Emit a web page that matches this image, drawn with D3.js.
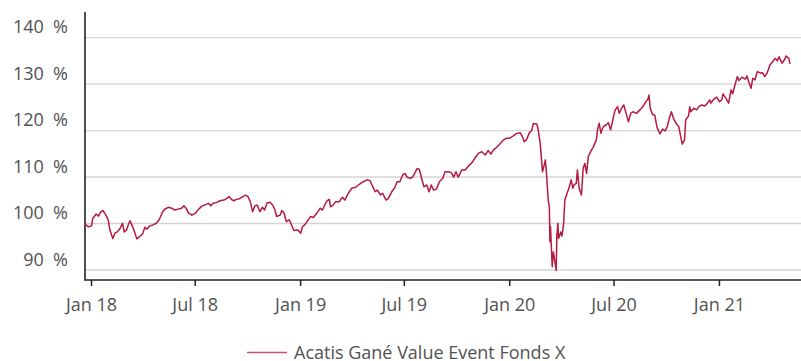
<!DOCTYPE html>
<html>
<head>
<meta charset="utf-8">
<script src="https://cdn.jsdelivr.net/npm/d3@7"></script>
<style>
  body { margin: 0; background: #fff; }
  svg { display: block; font-family: "Open Sans", "Noto Sans", sans-serif; }
</style>
</head>
<body>
<svg id="chart" width="801" height="361"></svg>
<script>
// Fund performance, indexed (%)
const seriesName = "Acatis Gané Value Event Fonds X";

const dates = [
  "2017-12-21","2017-12-27","2018-01-02","2018-01-04","2018-01-10","2018-01-14","2018-01-18","2018-01-22","2018-01-27","2018-01-31",
  "2018-02-03","2018-02-08","2018-02-12","2018-02-16","2018-02-21","2018-02-25","2018-02-28","2018-03-04","2018-03-07","2018-03-10",
  "2018-03-14","2018-03-18","2018-03-22","2018-03-27","2018-04-01","2018-04-05","2018-04-08","2018-04-14","2018-04-19","2018-04-25",
  "2018-04-30","2018-05-06","2018-05-10","2018-05-16","2018-05-22","2018-05-27","2018-06-02","2018-06-08","2018-06-12","2018-06-16",
  "2018-06-20","2018-06-26","2018-07-02","2018-07-08","2018-07-14","2018-07-19","2018-07-25","2018-07-29","2018-08-02","2018-08-08",
  "2018-08-14","2018-08-21","2018-08-26","2018-08-30","2018-09-03","2018-09-07","2018-09-12","2018-09-18","2018-09-23","2018-09-28",
  "2018-10-02","2018-10-06","2018-10-10","2018-10-14","2018-10-18","2018-10-23","2018-10-27","2018-10-31","2018-11-04","2018-11-09",
  "2018-11-14","2018-11-18","2018-11-21","2018-11-27","2018-11-30","2018-12-04","2018-12-08","2018-12-13","2018-12-17","2018-12-21",
  "2018-12-28","2019-01-02","2019-01-05","2019-01-09","2019-01-13","2019-01-19","2019-01-24","2019-01-30","2019-02-05","2019-02-09",
  "2019-02-13","2019-02-17","2019-02-21","2019-02-23","2019-02-28","2019-03-04","2019-03-10","2019-03-16","2019-03-20","2019-03-26",
  "2019-04-01","2019-04-08","2019-04-15","2019-04-21","2019-04-28","2019-05-03","2019-05-08","2019-05-12","2019-05-16","2019-05-21",
  "2019-05-25","2019-05-31","2019-06-04","2019-06-10","2019-06-16","2019-06-19","2019-06-24","2019-06-29","2019-07-03","2019-07-07",
  "2019-07-12","2019-07-16","2019-07-20","2019-07-24","2019-07-28","2019-08-01","2019-08-05","2019-08-10","2019-08-14","2019-08-18",
  "2019-08-22","2019-08-27","2019-09-01","2019-09-07","2019-09-11","2019-09-16","2019-09-22","2019-09-26","2019-09-30","2019-10-04",
  "2019-10-10","2019-10-16","2019-10-22","2019-10-28","2019-11-02","2019-11-08","2019-11-14","2019-11-20","2019-11-25","2019-11-30",
  "2019-12-04","2019-12-10","2019-12-16","2019-12-22","2019-12-27","2020-01-02","2020-01-08","2020-01-14","2020-01-20","2020-01-24",
  "2020-01-27","2020-01-31","2020-02-05","2020-02-09","2020-02-12","2020-02-18","2020-02-20","2020-02-24","2020-02-28","2020-03-02",
  "2020-03-04","2020-03-06","2020-03-09","2020-03-11","2020-03-12","2020-03-13","2020-03-16","2020-03-18","2020-03-23","2020-03-24",
  "2020-03-26","2020-03-27","2020-03-31","2020-04-02","2020-04-05","2020-04-07","2020-04-11","2020-04-15","2020-04-18","2020-04-21",
  "2020-04-23","2020-04-27","2020-04-29","2020-05-02","2020-05-06","2020-05-09","2020-05-12","2020-05-15","2020-05-18","2020-05-22",
  "2020-05-27","2020-06-01","2020-06-03","2020-06-06","2020-06-09","2020-06-13","2020-06-18","2020-06-22","2020-06-26","2020-07-01",
  "2020-07-04","2020-07-08","2020-07-11","2020-07-15","2020-07-19","2020-07-23","2020-07-27","2020-07-31","2020-08-04","2020-08-10",
  "2020-08-16","2020-08-22","2020-08-27","2020-08-30","2020-09-01","2020-09-03","2020-09-07","2020-09-11","2020-09-15","2020-09-20",
  "2020-09-25","2020-09-29","2020-10-03","2020-10-06","2020-10-10","2020-10-14","2020-10-19","2020-10-23","2020-10-26","2020-10-29",
  "2020-11-02","2020-11-04","2020-11-09","2020-11-11","2020-11-13","2020-11-18","2020-11-23","2020-11-27","2020-12-02","2020-12-07",
  "2020-12-11","2020-12-16","2020-12-18","2020-12-23","2020-12-28","2021-01-02","2021-01-06","2021-01-08","2021-01-13","2021-01-18",
  "2021-01-22","2021-01-25","2021-01-29","2021-02-02","2021-02-05","2021-02-10","2021-02-16","2021-02-19","2021-02-22","2021-02-26",
  "2021-03-01","2021-03-05","2021-03-09","2021-03-15","2021-03-18","2021-03-22","2021-03-26","2021-03-31","2021-04-05","2021-04-09",
  "2021-04-13","2021-04-16","2021-04-21","2021-04-26","2021-04-28","2021-05-03","2021-05-05"
];

const values = [
  100.0, 99.3, 99.5, 101.1, 102.05, 101.6, 102.5, 102.8, 101.8, 100.8,
  98.6, 96.8, 98.0, 98.2, 99.0, 100.05, 98.2, 98.6, 99.7, 100.6,
  99.5, 98.2, 96.7, 97.2, 97.75, 99.2, 98.8, 99.5, 99.7, 100.05,
  100.8, 102.55, 103.1, 103.5, 103.3, 102.9, 103.1, 103.3, 103.8, 103.3,
  102.3, 101.8, 102.2, 103.1, 103.8, 104.0, 104.35, 103.8, 104.35, 104.5,
  104.9, 105.05, 105.4, 105.8, 105.2, 104.9, 105.2, 105.4, 105.8, 106.1,
  105.8, 104.7, 102.55, 103.8, 104.0, 102.55, 103.5, 102.9, 104.35, 104.6,
  104.0, 102.9, 101.5, 101.8, 102.8, 102.2, 100.4, 100.8, 99.7, 98.5,
  98.6, 97.9, 99.3, 99.7, 100.4, 101.5, 101.3, 102.2, 103.3, 102.9,
  104.0, 104.9, 105.2, 103.6, 104.0, 104.7, 104.7, 105.65, 105.05, 106.5,
  107.6, 107.8, 108.5, 109.0, 109.4, 109.2, 107.9, 106.85, 107.2, 106.15,
  106.5, 105.05, 105.4, 106.85, 107.9, 109.0, 109.0, 110.45, 110.8, 109.95,
  109.75, 109.95, 110.8, 111.8, 111.7, 109.75, 107.9, 108.3, 106.85, 108.3,
  107.2, 107.4, 109.0, 109.75, 111.15, 111.15, 110.95, 109.95, 111.15, 109.95,
  111.5, 111.5, 112.4, 113.1, 114.05, 115.1, 115.45, 114.75, 115.7, 114.95,
  115.8, 116.4, 117.15, 118.0, 118.35, 118.35, 118.85, 119.4, 119.55, 118.7,
  117.6, 118.0, 119.5, 119.95, 121.5, 121.4, 120.55, 117.3, 111.15, 112.6,
  113.7, 110.8, 105.05, 103.6, 96.1, 99.3, 90.7, 93.9, 89.9, 97.2,
  100.05, 96.8, 98.2, 97.3, 100.05, 105.05, 106.5, 107.9, 109.4, 107.6,
  108.3, 108.65, 111.5, 107.6, 106.15, 111.9, 112.95, 110.8, 114.4, 115.45,
  116.55, 118.0, 120.15, 121.6, 119.4, 120.85, 121.2, 121.7, 120.15, 123.0,
  124.45, 125.15, 123.7, 124.8, 125.5, 123.7, 121.9, 123.7, 124.05, 123.7,
  124.45, 125.3, 126.35, 126.7, 127.65, 124.8, 123.5, 123.3, 120.7, 119.3,
  120.35, 119.9, 120.9, 122.5, 124.05, 122.5, 121.4, 120.85, 118.85, 117.1,
  118.0, 122.3, 123.15, 125.15, 124.05, 124.8, 124.45, 125.15, 125.5, 125.3,
  125.75, 126.6, 125.9, 126.75, 127.2, 126.2, 126.6, 127.9, 127.0, 125.9,
  128.75, 127.9, 129.8, 131.6, 130.75, 131.5, 131.05, 131.75, 130.5, 129.1,
  131.25, 130.9, 132.7, 132.35, 132.45, 131.6, 132.35, 134.1, 134.85, 135.55,
  135.05, 135.9, 134.5, 135.35, 136.05, 135.55, 134.35
];

const yTicks = [90, 100, 110, 120, 130, 140];
const yTickLabels = ["90  %", "100  %", "110  %", "120  %", "130  %", "140  %"];
const xTicks = ["2018-01-01", "2018-07-01", "2019-01-01", "2019-07-01", "2020-01-01", "2020-07-01", "2021-01-01"];
const xTickLabels = ["Jan 18", "Jul 18", "Jan 19", "Jul 19", "Jan 20", "Jul 20", "Jan 21"];

const parse = d3.timeParse("%Y-%m-%d");
const series = dates.map((d, i) => ({ date: parse(d), value: values[i] }));

const svg = d3.select("#chart");
const plotLeft = 85, plotRight = 801, plotTop = 12, plotBottom = 280;

const x = d3.scaleTime()
  .domain([new Date(2017, 11, 21, 12), new Date(2021, 4, 19)])
  .range([plotLeft, 798]);
const y = d3.scaleLinear()
  .domain([87.85, 145.3])
  .range([plotBottom, plotTop + 1]);

const textColor = "#525252";

// horizontal grid
svg.append("g")
  .selectAll("line")
  .data(yTicks)
  .join("line")
  .attr("x1", plotLeft)
  .attr("x2", plotRight)
  .attr("y1", d => y(d))
  .attr("y2", d => y(d))
  .attr("stroke", "#d4d4d4")
  .attr("stroke-width", 1.4);

// y labels sit just above their grid lines
svg.append("g")
  .selectAll("text")
  .data(yTicks)
  .join("text")
  .attr("x", 68)
  .attr("y", d => y(d) - 4.5)
  .attr("text-anchor", "end")
  .attr("xml:space", "preserve")
  .style("white-space", "pre")
  .attr("font-size", 18)
  .attr("fill", textColor)
  .text((d, i) => yTickLabels[i]);

// x axis
const xAxis = d3.axisBottom(x)
  .tickValues(xTicks.map(parse))
  .tickFormat((d, i) => xTickLabels[i])
  .tickSize(6)
  .tickSizeOuter(0);

const gx = svg.append("g")
  .attr("transform", `translate(0,${plotBottom})`)
  .call(xAxis);
gx.select(".domain").remove();
gx.selectAll(".tick line").attr("stroke", "#222").attr("stroke-width", 1.5);
gx.selectAll(".tick text")
  .attr("y", 0)
  .attr("dy", 0)
  .attr("transform", "translate(0,30.5)")
  .attr("font-size", 18)
  .attr("font-family", "\"Open Sans\", sans-serif")
  .attr("fill", textColor);

// axis lines
svg.append("line")
  .attr("x1", plotLeft).attr("x2", plotRight)
  .attr("y1", plotBottom).attr("y2", plotBottom)
  .attr("stroke", "#222").attr("stroke-width", 1.6);
svg.append("line")
  .attr("x1", plotLeft).attr("x2", plotLeft)
  .attr("y1", plotTop).attr("y2", plotBottom + 0.8)
  .attr("stroke", "#222").attr("stroke-width", 1.6);

// performance line
const line = d3.line()
  .x(d => x(d.date))
  .y(d => y(d.value));

svg.append("path")
  .datum(series)
  .attr("d", line)
  .attr("fill", "none")
  .attr("stroke", "#b51a40")
  .attr("stroke-width", 1.5)
  .attr("stroke-linejoin", "round");

// legend
const legend = svg.append("g");
legend.append("line")
  .attr("x1", 247).attr("x2", 287)
  .attr("y1", 352.5).attr("y2", 352.5)
  .attr("stroke", "#c4506c")
  .attr("stroke-width", 1.4);
legend.append("text")
  .attr("x", 294)
  .attr("y", 359)
  .attr("font-size", 18)
  .attr("fill", textColor)
  .text(seriesName);
</script>
</body>
</html>
